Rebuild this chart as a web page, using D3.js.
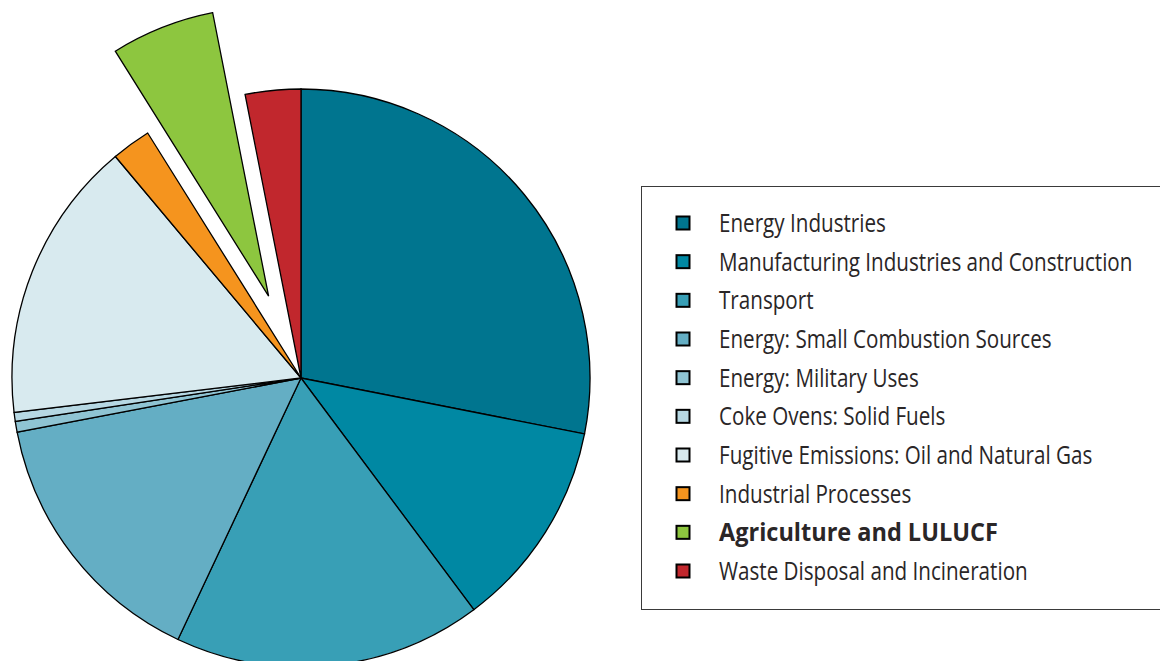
<!DOCTYPE html>
<html>
<head>
<meta charset="utf-8">
<script src="https://cdn.jsdelivr.net/npm/d3@7"></script>
<style>
  html, body { margin: 0; padding: 0; background: #fff; }
  svg { display: block; }
  .legend-label { font-family: "Open Sans", "Noto Sans", sans-serif; font-size: 25px; fill: #2a2627; }
</style>
</head>
<body>
<svg id="chart" width="1160" height="661"></svg>
<script>
// Sector shares of emissions (percent)
const categories = [
  "Energy Industries",
  "Manufacturing Industries and Construction",
  "Transport",
  "Energy: Small Combustion Sources",
  "Energy: Military Uses",
  "Coke Ovens: Solid Fuels",
  "Fugitive Emissions: Oil and Natural Gas",
  "Industrial Processes",
  "Agriculture and LULUCF",
  "Waste Disposal and Incineration"
];
const shares = [28.1, 11.7, 17.2, 15.0, 0.6, 0.5, 15.8, 2.2, 5.8, 3.1];
const colors = [
  "#00758f", "#0088a3", "#389fb6", "#64aec4", "#8fc4d3",
  "#b6d8e3", "#d8eaef", "#f5941e", "#8dc63f", "#c1272d"
];
// The highlighted sector is pulled out of the pie
const highlighted = "Agriculture and LULUCF";

const data = categories.map((c, i) => ({ name: c, value: shares[i], color: colors[i] }));

const svg = d3.select("#chart");
const cx = 301, cy = 378, radius = 289, explode = 88;

const pie = d3.pie().value(d => d.value).sort(null);
const arc = d3.arc().innerRadius(0).outerRadius(radius);

const g = svg.append("g").attr("transform", `translate(${cx},${cy})`);

g.selectAll("path.slice")
  .data(pie(data))
  .join("path")
  .attr("class", "slice")
  .attr("d", arc)
  .attr("fill", d => d.data.color)
  .attr("stroke", "#000")
  .attr("stroke-width", 1.3)
  .attr("stroke-linejoin", "miter")
  .attr("transform", d => {
    if (d.data.name !== highlighted) return null;
    const mid = (d.startAngle + d.endAngle) / 2;
    return `translate(${Math.sin(mid) * explode},${-Math.cos(mid) * explode})`;
  });

// Legend
const lx = 641, ly = 186, lw = 530, lh = 423;
const legend = svg.append("g");
legend.append("rect")
  .attr("x", lx + 0.5).attr("y", ly + 0.5)
  .attr("width", lw).attr("height", lh)
  .attr("fill", "#fff")
  .attr("stroke", "#3a3a3a")
  .attr("stroke-width", 1);

const rowY = d3.scalePoint().domain(categories).range([223, 571]);

const items = legend.selectAll("g.item")
  .data(data)
  .join("g")
  .attr("class", "item")
  .attr("transform", d => `translate(0,${rowY(d.name)})`);

items.append("rect")
  .attr("x", 676.5).attr("y", -6.5)
  .attr("width", 13).attr("height", 13)
  .attr("fill", d => d.color)
  .attr("stroke", "#000")
  .attr("stroke-width", 2);

// Narrow humanist lettering: regular labels condensed, bold label slightly less so
items.append("text")
  .attr("class", "legend-label")
  .attr("transform", d => `translate(719,9) scale(${d.name === highlighted ? 0.94 : 0.825},1)`)
  .style("font-weight", d => d.name === highlighted ? 700 : 400)
  .text(d => d.name);
</script>
</body>
</html>
